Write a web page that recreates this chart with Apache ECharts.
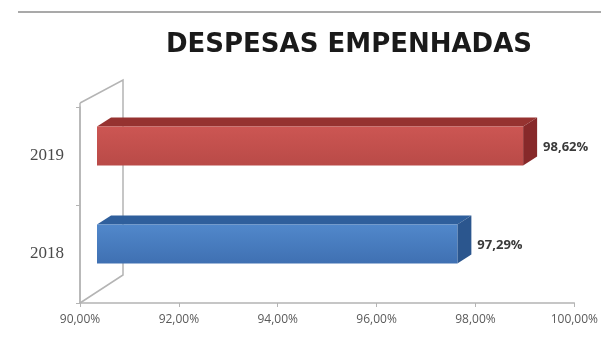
<!DOCTYPE html>
<html>
<head>
<meta charset="utf-8">
<script src="https://cdn.jsdelivr.net/npm/echarts@6/dist/echarts.min.js"></script>
<style>html,body{margin:0;padding:0;background:#fff;}#c{width:601px;height:339px;}</style>
</head>
<body>
<div id="c"></div>
<script>
const title = 'DESPESAS EMPENHADAS';
const categories = ['2018', '2019'];
const values = [97.29, 98.62];
const valueLabels = ['97,29%', '98,62%'];
const xMin = 90, xMax = 100, xStep = 2;

const palettes = [
  { front: ['#5188cb', '#3f70b2'], top: '#2f5f9c', side: '#2b568e' },
  { front: ['#cc5653', '#b94a47'], top: '#963230', side: '#87292a' }
];

const fmt = v => v.toFixed(2).replace('.', ',') + '%';

// oblique depth offsets
const WALL = [43, -25];
const FRONT = [17, -10];
const BACK = [31, -19];

function renderBar(params, api) {
  const v = api.value(0), c = api.value(1);
  const p0 = api.coord([xMin, c]);
  const p1 = api.coord([v, c]);
  const band = api.size([0, 1])[1];
  const h = band * 0.40;
  const yT = p0[1] - h / 2, yB = p0[1] + h / 2;
  const x0f = p0[0] + FRONT[0], x1f = p1[0] + FRONT[0];
  const x0b = p0[0] + BACK[0], x1b = p1[0] + BACK[0];
  const pal = palettes[params.dataIndex];
  return {
    type: 'group',
    children: [
      { type: 'polygon', shape: { points: [[x0f, yT + FRONT[1]], [x1f, yT + FRONT[1]], [x1b, yT + BACK[1]], [x0b, yT + BACK[1]]] },
        style: { fill: pal.top } },
      { type: 'polygon', shape: { points: [[x1f, yT + FRONT[1]], [x1b, yT + BACK[1]], [x1b, yB + BACK[1]], [x1f, yB + FRONT[1]]] },
        style: { fill: pal.side } },
      { type: 'rect', shape: { x: x0f, y: yT + FRONT[1], width: x1f - x0f, height: h },
        style: { fill: new echarts.graphic.LinearGradient(0, 0, 0, 1, [{ offset: 0, color: pal.front[0] }, { offset: 1, color: pal.front[1] }]) } },
      { type: 'text', x: x1b + 6, y: p0[1] + FRONT[1] + 1,
        style: { text: valueLabels[params.dataIndex], fill: '#3a3a3a', font: 'bold 13px "Open Sans", sans-serif', verticalAlign: 'middle', align: 'left' } }
    ]
  };
}

function renderWall(params, api) {
  const a = api.coord([xMin, 0]);
  const b = api.coord([xMin, categories.length - 1]);
  const band = api.size([0, 1])[1];
  const yBot = a[1] + band / 2, yTop = b[1] - band / 2 - 4, x = a[0];
  const st = { stroke: '#b4b4b4', lineWidth: 1.5, fill: null };
  return {
    type: 'group',
    children: [
      { type: 'polyline', shape: { points: [[x, yTop], [x + WALL[0], yTop + WALL[1] + 2], [x + WALL[0], yBot + WALL[1] - 3], [x, yBot]] }, style: st },
      { type: 'line', shape: { x1: x, y1: yTop, x2: x, y2: yBot }, style: st }
    ]
  };
}

const chart = echarts.init(document.getElementById('c'), null, { renderer: 'canvas' });
chart.setOption({
  animation: false,
  backgroundColor: '#fff',
  title: {
    text: title, left: 344, top: 27, textAlign: 'center',
    textStyle: { fontFamily: '"DejaVu Sans", sans-serif', fontWeight: 'bold', fontSize: 26, color: '#1a1a1a' }
  },
  graphic: [
    { type: 'line', shape: { x1: 18, y1: 12, x2: 601, y2: 12 }, style: { stroke: '#a9a9a9', lineWidth: 2 } }
  ],
  grid: { left: 80, right: 25, top: 107, bottom: 36 },
  xAxis: {
    type: 'value', min: xMin, max: xMax, interval: xStep,
    axisLine: { show: true, lineStyle: { color: '#b4b4b4', width: 1.5 } },
    axisTick: { show: true, length: 4, inside: false, lineStyle: { color: '#b4b4b4' } },
    splitLine: { show: false },
    axisLabel: { formatter: fmt, color: '#5a5a5a', fontSize: 12, margin: 11, fontFamily: '"Open Sans", sans-serif' }
  },
  yAxis: {
    type: 'category', data: categories,
    axisLine: { show: true, lineStyle: { color: '#b4b4b4', width: 1.5 } },
    axisTick: { show: true, length: 4, lineStyle: { color: '#b4b4b4' } },
    axisLabel: { color: '#4a4a4a', fontSize: 17, margin: 16, fontFamily: '"Liberation Serif", serif' }
  },
  series: [
    { type: 'custom', renderItem: renderWall, data: [[xMin, 0]], encode: { x: 0, y: 1 }, z: 1, silent: true, clip: false },
    { type: 'custom', renderItem: renderBar, data: values.map((v, i) => [v, i]), encode: { x: 0, y: 1 }, z: 2, clip: false }
  ]
});
</script>
</body>
</html>
